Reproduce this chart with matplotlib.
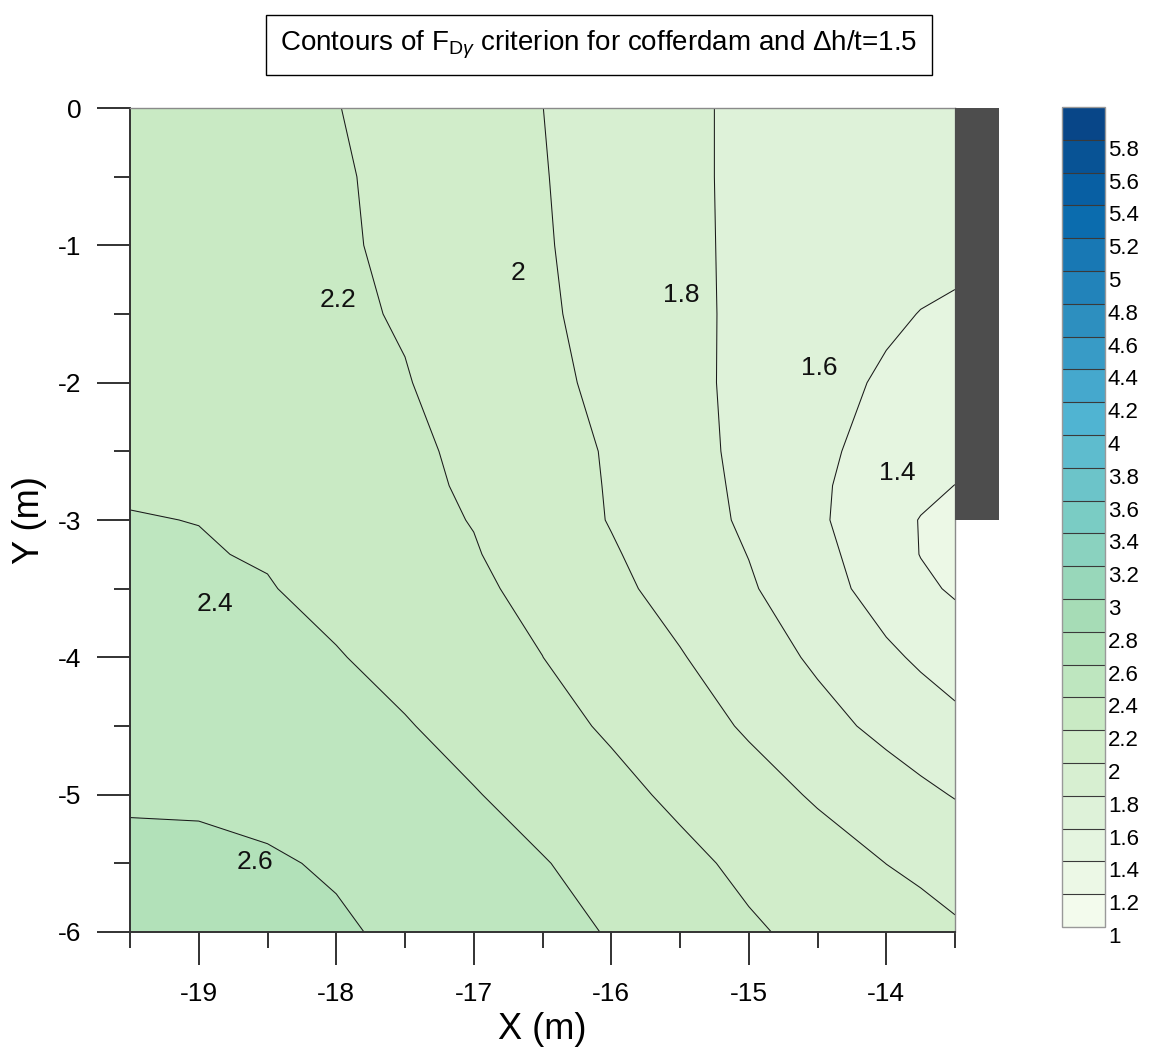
import numpy as np
import matplotlib
matplotlib.use("Agg")
import matplotlib.pyplot as plt
from matplotlib.patches import Rectangle
from matplotlib.ticker import MultipleLocator

plt.rcParams['font.family'] = ['Liberation Sans', 'DejaVu Sans']
plt.rcParams['mathtext.fontset'] = 'custom'
plt.rcParams['mathtext.rm'] = 'Liberation Sans'
plt.rcParams['mathtext.it'] = 'Liberation Sans:italic'
plt.rcParams['mathtext.bf'] = 'Liberation Sans:bold'
plt.rcParams['axes.unicode_minus'] = False

# Grid of the computed F_Dγ factor (x along the section, y depth, metres)
x_nodes = [-19.5, -19.0, -18.5, -18.0, -17.5, -17.0, -16.5, -16.0,
           -15.5, -15.0, -14.5, -14.0, -13.75, -13.5]
y_nodes = [0.0, -0.5, -1.0, -1.5, -2.0, -2.5, -2.75, -3.0, -3.25,
           -3.5, -4.0, -4.5, -5.0, -5.5, -6.0]

# one row per y node, one column per x node
fd_values = [
    [2.330, 2.300, 2.260, 2.205, 2.138, 2.070, 2.001, 1.920, 1.838, 1.762, 1.715, 1.690, 1.685, 1.680],
    [2.335, 2.300, 2.265, 2.218, 2.158, 2.085, 2.008, 1.927, 1.838, 1.762, 1.712, 1.680, 1.672, 1.665],
    [2.340, 2.300, 2.260, 2.220, 2.170, 2.095, 2.015, 1.930, 1.841, 1.762, 1.700, 1.665, 1.655, 1.645],
    [2.360, 2.330, 2.290, 2.232, 2.185, 2.102, 2.026, 1.938, 1.843, 1.763, 1.695, 1.627, 1.596, 1.575],
    [2.375, 2.350, 2.310, 2.256, 2.209, 2.127, 2.046, 1.955, 1.852, 1.754, 1.662, 1.576, 1.540, 1.500],
    [2.380, 2.370, 2.340, 2.290, 2.240, 2.159, 2.073, 1.983, 1.869, 1.753, 1.636, 1.534, 1.500, 1.460],
    [2.388, 2.379, 2.340, 2.290, 2.243, 2.176, 2.083, 1.987, 1.877, 1.762, 1.628, 1.500, 1.445, 1.398],
    [2.405, 2.398, 2.340, 2.293, 2.245, 2.194, 2.093, 1.991, 1.885, 1.771, 1.628, 1.473, 1.393, 1.340],
    [2.430, 2.410, 2.388, 2.321, 2.266, 2.211, 2.119, 2.017, 1.910, 1.796, 1.652, 1.497, 1.395, 1.340],
    [2.450, 2.435, 2.409, 2.349, 2.288, 2.225, 2.160, 2.043, 1.934, 1.821, 1.676, 1.521, 1.441, 1.375],
    [2.500, 2.480, 2.450, 2.411, 2.342, 2.272, 2.201, 2.107, 2.012, 1.894, 1.770, 1.633, 1.574, 1.530],
    [2.530, 2.520, 2.500, 2.475, 2.412, 2.335, 2.258, 2.177, 2.080, 1.979, 1.864, 1.752, 1.695, 1.640],
    [2.580, 2.575, 2.550, 2.510, 2.460, 2.410, 2.331, 2.250, 2.165, 2.072, 1.980, 1.890, 1.840, 1.790],
    [2.640, 2.640, 2.620, 2.580, 2.517, 2.463, 2.410, 2.330, 2.244, 2.161, 2.079, 1.999, 1.970, 1.940],
    [2.680, 2.675, 2.660, 2.625, 2.563, 2.506, 2.450, 2.390, 2.306, 2.223, 2.153, 2.088, 2.054, 2.020],
]

# colour classes of the legend bar
fill_levels = [1.0, 1.2, 1.4, 1.6, 1.8, 2.0, 2.2, 2.4, 2.6, 2.8, 3.0, 3.2, 3.4,
               3.6, 3.8, 4.0, 4.2, 4.4, 4.6, 4.8, 5.0, 5.2, 5.4, 5.6, 5.8, 6.0]
# isolines drawn and labelled in the section
line_levels = [1.4, 1.6, 1.8, 2.0, 2.2, 2.4, 2.6]
label_anchor_x = [-13.92, -14.49, -15.49, -16.68, -17.99, -18.88, -18.59]
label_anchor_y = [-2.66, -1.89, -1.36, -1.20, -1.40, -3.61, -5.49]

# sheet-pile wall of the cofferdam (x from, x to, top, bottom)
wall_x = (-13.5, -13.18)
wall_y = (0.0, -3.0)

W, H = 1152, 1059
fig = plt.figure(figsize=(W / 100, H / 100), dpi=100)
fig.patch.set_facecolor('white')

ax = fig.add_axes([130 / W, 1 - 932 / H, 825 / W, 824 / H])
X, Y = np.meshgrid(x_nodes, y_nodes)
Z = np.array(fd_values)

cmap = plt.get_cmap('GnBu')
cf = ax.contourf(X, Y, Z, levels=fill_levels, cmap=cmap, vmin=1.0, vmax=6.0)
ax.contour(X, Y, Z, levels=line_levels, colors='#1a1a1a', linewidths=0.75)

for lev, lx, ly in zip(line_levels, label_anchor_x, label_anchor_y):
    ax.text(lx, ly, f'{lev:g}', fontsize=19, ha='center', va='center', color='#111111')

ax.add_patch(Rectangle((wall_x[0], wall_y[1]), wall_x[1] - wall_x[0], wall_y[0] - wall_y[1],
                       facecolor='#4d4d4d', edgecolor='none', clip_on=False, zorder=5))

ax.set_xlim(-19.5, -13.5)
ax.set_ylim(-6, 0)
ax.set_xticks([-19, -18, -17, -16, -15, -14])
ax.set_yticks([0, -1, -2, -3, -4, -5, -6])
ax.xaxis.set_minor_locator(MultipleLocator(0.5))
ax.yaxis.set_minor_locator(MultipleLocator(0.5))
ax.tick_params(which='major', direction='out', length=24, width=1.3, colors='#222222',
               labelsize=19, labelcolor='black')
ax.tick_params(axis='x', which='major', pad=12)
ax.tick_params(axis='y', which='major', pad=11)
ax.tick_params(which='minor', direction='out', length=11.5, width=1.3, colors='#222222')

for side in ('left', 'bottom'):
    ax.spines[side].set_color('#333333')
    ax.spines[side].set_linewidth(1.4)
for side in ('top', 'right'):
    ax.spines[side].set_color('#8a8a8a')
    ax.spines[side].set_linewidth(1.0)

ax.set_xlabel('X (m)', fontsize=26, labelpad=4)
ax.set_ylabel('Y (m)', fontsize=26, labelpad=8)

title = r'Contours of F$_{\mathrm{D}\gamma}$ criterion for cofferdam and $\Delta$h/t=1.5'
fig.text(599 / W, 1 - 45 / H, title, fontsize=20, ha='center', va='center',
         bbox=dict(boxstyle='square,pad=0.5', facecolor='white', edgecolor='black', linewidth=1.0))

cax = fig.add_axes([1062 / W, 1 - 927 / H, 43 / W, 820 / H])
cbar = fig.colorbar(cf, cax=cax, ticks=fill_levels[:-1], drawedges=True)
cbar.dividers.set_color('#3a3a3a')
cbar.dividers.set_linewidth(0.8)
cbar.outline.set_edgecolor('#999999')
cbar.outline.set_linewidth(1.0)
cax.set_yticklabels([f'{v:g}' for v in fill_levels[:-1]])
cax.tick_params(length=0, pad=2, labelsize=16)
for t in cax.get_yticklabels():
    t.set_verticalalignment('top')

fig.savefig('out.png', dpi=100)
